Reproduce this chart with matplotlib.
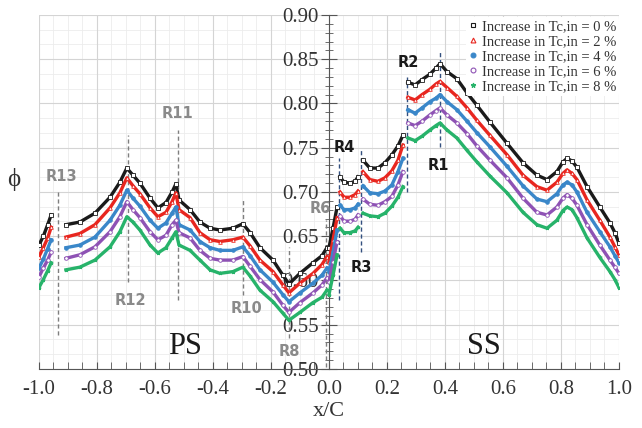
import numpy as np
import matplotlib.pyplot as plt
from matplotlib.lines import Line2D
from matplotlib.ticker import MultipleLocator, FormatStrFormatter

nan = np.nan

# pressure side (x/C < 0), gaps where the traverse is interrupted
x_ps = [-1.0, -0.985, -0.97, -0.958, nan,
        -0.907, -0.859, -0.807, -0.755, -0.721, -0.697, -0.676, -0.652, -0.617, -0.590,
        -0.562, -0.541, -0.528, -0.517, -0.479, -0.445, -0.410, -0.376, -0.331, -0.297,
        -0.272, -0.238, -0.193, -0.159, -0.138, -0.100, -0.055, -0.024, -0.007]

phi0_ps = [0.640, 0.650, 0.663, 0.674, nan,
           0.663, 0.666, 0.676, 0.694, 0.711, 0.727, 0.719, 0.710, 0.693, 0.682,
           0.688, 0.700, 0.709, 0.691, 0.680, 0.666, 0.659, 0.657, 0.659, 0.664,
           0.654, 0.637, 0.623, 0.606, 0.596, 0.608, 0.620, 0.628, 0.637]
phi2_ps = [0.627, 0.637, 0.648, 0.660, nan,
           0.649, 0.653, 0.663, 0.682, 0.699, 0.716, 0.707, 0.698, 0.682, 0.672,
           0.677, 0.689, 0.699, 0.680, 0.671, 0.654, 0.646, 0.644, 0.646, 0.649,
           0.639, 0.623, 0.610, 0.595, 0.586, 0.597, 0.608, 0.618, 0.627]
phi4_ps = [0.614, 0.624, 0.636, 0.646, nan,
           0.637, 0.640, 0.649, 0.668, 0.685, 0.702, 0.693, 0.684, 0.668, 0.659,
           0.665, 0.676, 0.683, 0.663, 0.657, 0.644, 0.637, 0.634, 0.634, 0.638,
           0.628, 0.612, 0.598, 0.584, 0.576, 0.586, 0.597, 0.606, 0.614]
phi6_ps = [0.604, 0.614, 0.623, 0.632, nan,
           0.625, 0.629, 0.638, 0.655, 0.672, 0.689, 0.680, 0.671, 0.655, 0.646,
           0.651, 0.663, 0.668, 0.654, 0.648, 0.634, 0.625, 0.623, 0.623, 0.627,
           0.616, 0.601, 0.587, 0.572, 0.564, 0.575, 0.586, 0.595, 0.603]
phi8_ps = [0.592, 0.601, 0.611, 0.620, nan,
           0.612, 0.615, 0.623, 0.638, 0.655, 0.672, 0.666, 0.657, 0.640, 0.631,
           0.637, 0.648, 0.655, 0.640, 0.634, 0.623, 0.612, 0.608, 0.610, 0.615,
           0.605, 0.589, 0.576, 0.563, 0.555, 0.564, 0.575, 0.581, 0.589]

# suction side (x/C > 0)
x_ss = [0.0, 0.014, 0.028, nan,
        0.038, 0.052, 0.072, 0.090, 0.100, nan,
        0.117, 0.141, 0.169, 0.193, 0.217, 0.238, 0.255, nan,
        0.272, 0.297, 0.321, 0.348, 0.369, 0.383, 0.407, 0.441, 0.476, 0.510,
        0.555, 0.614, 0.669, 0.717, 0.752, 0.786, 0.807, 0.821, 0.838, 0.855,
        0.890, 0.934, 0.969, 0.986, 1.0]

phi0_ss = [0.637, 0.659, 0.683, nan,
           0.717, 0.711, 0.710, 0.712, 0.717, nan,
           0.736, 0.727, 0.727, 0.733, 0.742, 0.752, 0.764, nan,
           0.824, 0.821, 0.827, 0.833, 0.840, 0.845, 0.836, 0.828, 0.812, 0.798,
           0.779, 0.755, 0.733, 0.719, 0.714, 0.723, 0.734, 0.738, 0.735, 0.728,
           0.706, 0.683, 0.665, 0.654, 0.642]
phi2_ss = [0.621, 0.646, 0.671, nan,
           0.700, 0.694, 0.694, 0.697, 0.701, nan,
           0.723, 0.714, 0.712, 0.716, 0.724, 0.736, 0.753, nan,
           0.807, 0.804, 0.810, 0.816, 0.822, 0.825, 0.818, 0.808, 0.795, 0.781,
           0.764, 0.742, 0.719, 0.706, 0.702, 0.711, 0.721, 0.725, 0.721, 0.714,
           0.691, 0.668, 0.649, 0.638, 0.629]
phi4_ss = [0.610, 0.632, 0.657, nan,
           0.685, 0.680, 0.680, 0.682, 0.686, nan,
           0.707, 0.699, 0.698, 0.701, 0.708, 0.723, 0.738, nan,
           0.793, 0.789, 0.795, 0.802, 0.806, 0.810, 0.802, 0.793, 0.780, 0.767,
           0.751, 0.729, 0.707, 0.692, 0.689, 0.698, 0.708, 0.711, 0.708, 0.700,
           0.677, 0.655, 0.638, 0.628, 0.620]
phi6_ss = [0.598, 0.621, 0.644, nan,
           0.673, 0.667, 0.667, 0.669, 0.674, nan,
           0.692, 0.686, 0.685, 0.689, 0.695, 0.708, 0.723, nan,
           0.778, 0.775, 0.780, 0.787, 0.792, 0.795, 0.787, 0.778, 0.766, 0.752,
           0.736, 0.716, 0.693, 0.677, 0.674, 0.683, 0.693, 0.697, 0.693, 0.685,
           0.663, 0.640, 0.623, 0.615, 0.608]
phi8_ss = [0.584, 0.606, 0.629, nan,
           0.659, 0.654, 0.654, 0.656, 0.660, nan,
           0.676, 0.673, 0.672, 0.676, 0.684, 0.694, 0.706, nan,
           0.761, 0.758, 0.763, 0.770, 0.775, 0.778, 0.770, 0.761, 0.747, 0.734,
           0.718, 0.699, 0.677, 0.663, 0.659, 0.668, 0.679, 0.683, 0.680, 0.671,
           0.648, 0.626, 0.610, 0.601, 0.592]

labels = ['Increase in Tc,in = 0 %', 'Increase in Tc,in = 2 %', 'Increase in Tc,in = 4 %',
          'Increase in Tc,in = 6 %', 'Increase in Tc,in = 8 %']
colors = ['#1a1a1a', '#e8261f', '#3a87c9', '#8e52b4', '#27b36a']
markers = ['s', '^', 'o', 'o', '*']
facecolors = ['white', 'white', '#3a87c9', 'white', '#27b36a']

ps_series = [phi0_ps, phi2_ps, phi4_ps, phi6_ps, phi8_ps]
ss_series = [phi0_ss, phi2_ss, phi4_ss, phi6_ss, phi8_ss]

# region markers: name, x/C, extent of dashed line, label position
ps_regions = ['R13', 'R12', 'R11', 'R10', 'R8', 'R6']
ps_region_x = [-0.934, -0.693, -0.521, -0.297, -0.138, -0.010]
ps_region_y0 = [0.538, 0.598, 0.578, 0.584, 0.535, 0.502]
ps_region_y1 = [0.700, 0.764, 0.770, 0.691, 0.638, 0.668]
ps_label_xy = [(-0.924, 0.717), (-0.683, 0.577), (-0.521, 0.789), (-0.286, 0.568),
               (-0.138, 0.520), (-0.031, 0.681)]

ss_regions = ['R4', 'R3', 'R2', 'R1']
ss_region_x = [0.034, 0.110, 0.269, 0.383]
ss_region_y0 = [0.578, 0.632, 0.700, 0.751]
ss_region_y1 = [0.738, 0.747, 0.830, 0.860]
ss_label_xy = [(0.052, 0.750), (0.110, 0.615), (0.272, 0.846), (0.379, 0.730)]

serif = ['Liberation Serif', 'DejaVu Serif']
plt.rcParams['font.family'] = serif

fig = plt.figure(figsize=(6.42, 4.28), dpi=100)
ax = fig.add_axes([0.0607, 0.138, 0.9034, 0.827])

ax.set_xlim(-1.0, 1.0)
ax.set_ylim(0.50, 0.90)

# grid, drawn by hand so the minor spacing can differ from the tick spacing
for xv in np.arange(-1.0, 1.001, 0.05):
    ax.axvline(xv, color='#ececec', lw=0.6, zorder=0)
for yv in np.arange(0.50, 0.901, 0.05 / 3):
    ax.axhline(yv, color='#ececec', lw=0.6, zorder=0)
for xv in np.arange(-1.0, 1.001, 0.2):
    ax.axvline(xv, color='#d4d4d4', lw=0.8, zorder=0)
for yv in np.arange(0.50, 0.901, 0.05):
    ax.axhline(yv, color='#d4d4d4', lw=0.8, zorder=0)

for i in range(5):
    for xs, ys in ((x_ps, ps_series[i]), (x_ss, ss_series[i])):
        ax.plot(xs, ys, color=colors[i], lw=2.4, marker=markers[i], ms=2.6,
                mfc=facecolors[i], mec=colors[i], mew=0.6, zorder=4)

for name, xv, y0, y1, (tx, ty) in zip(ps_regions, ps_region_x, ps_region_y0,
                                      ps_region_y1, ps_label_xy):
    ax.plot([xv, xv], [y0, y1], ls=(0, (3, 2)), color='#7f7f7f', lw=1.0, zorder=3)
    ax.text(tx, ty, name, family='DejaVu Sans', fontweight='bold', fontsize=10.5,
            color='#8a8a8a', ha='center', va='center', zorder=5)

for name, xv, y0, y1, (tx, ty) in zip(ss_regions, ss_region_x, ss_region_y0,
                                      ss_region_y1, ss_label_xy):
    ax.plot([xv, xv], [y0, y1], ls=(0, (3, 2)), color='#33507f', lw=1.0, zorder=3)
    ax.text(tx, ty, name, family='DejaVu Sans', fontweight='bold', fontsize=10.5,
            color='#1a1a1a', ha='center', va='center', zorder=5)

ax.text(-0.497, 0.525, 'PS', fontsize=22, ha='center', va='center', color='#1a1a1a')
ax.text(0.534, 0.525, 'SS', fontsize=22, ha='center', va='center', color='#1a1a1a')

# axes: y spine through x/C = 0
for s in ('top', 'right'):
    ax.spines[s].set_visible(False)
ax.spines['left'].set_position(('data', 0))
ax.spines['left'].set_color('#555555')
ax.spines['bottom'].set_color('#555555')
ax.spines['left'].set_zorder(2)

ax.xaxis.set_major_locator(MultipleLocator(0.2))
ax.xaxis.set_minor_locator(MultipleLocator(0.05))
ax.yaxis.set_major_locator(MultipleLocator(0.05))
ax.yaxis.set_minor_locator(MultipleLocator(0.01))
ax.xaxis.set_major_formatter(FormatStrFormatter('%.1f'))
ax.yaxis.set_major_formatter(FormatStrFormatter('%.2f'))
ax.tick_params(axis='x', which='both', direction='in', length=5, color='#555555',
               labelsize=15, labelcolor='#333333', pad=8)
ax.tick_params(axis='y', which='major', direction='inout', length=11, color='#555555',
               labelsize=15, labelcolor='#333333', pad=2)
ax.tick_params(axis='y', which='minor', direction='inout', length=6, color='#555555')

ax.set_xlabel('x/C', fontsize=16, color='#333333', labelpad=2)
fig.text(0.022, 1 - 180 / 428, 'ϕ', fontsize=18, ha='center', va='center',
         color='#333333', family=serif)

handles = [Line2D([], [], ls='none', marker=markers[i], ms=3.5, mfc=facecolors[i],
                  mec=colors[i], mew=0.8) for i in range(5)]
leg = ax.legend(handles, labels, loc='upper right', bbox_to_anchor=(1.0, 0.995),
                fontsize=10.5, frameon=True, facecolor='white', edgecolor='none',
                framealpha=1.0, handlelength=0.6, handletextpad=0.3,
                labelspacing=0.12, borderpad=0.2, borderaxespad=0.0)
for t in leg.get_texts():
    t.set_color('#333333')
leg.set_zorder(6)

fig.savefig('out.png', dpi=100)
